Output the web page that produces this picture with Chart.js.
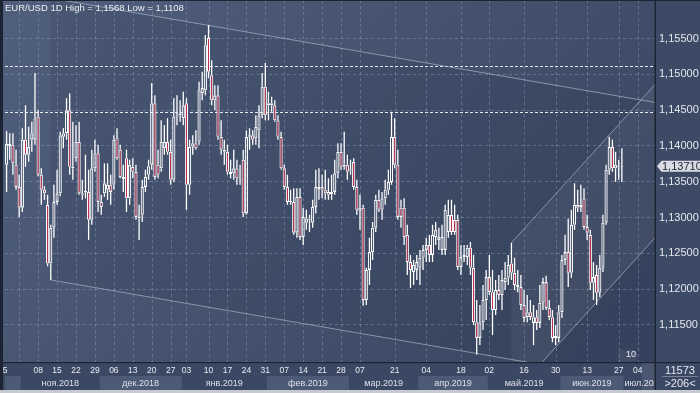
<!DOCTYPE html>
<html><head><meta charset="utf-8">
<script src="https://cdn.jsdelivr.net/npm/chart.js@4/dist/chart.umd.min.js"></script>
<style>html,body{margin:0;padding:0;background:#3c4964;}canvas{display:block}</style>
</head><body>
<canvas id="c" width="700" height="393"></canvas>
<script>
// ---- data (daily EUR/USD, bar index 0 = first visible bar) ----
const opens = [1.1373,1.1402,1.1401,1.1373,1.1342,1.1313,1.1408,1.1387,1.1408,1.1408,
1.1440,1.1359,1.1338,1.1317,1.1235,1.1285,1.1321,1.1333,1.1412,1.1417,
1.1449,1.1370,1.1382,1.1405,1.1333,1.1335,1.1335,1.1296,1.1368,1.1389,
1.1321,1.1333,1.1338,1.1345,1.1345,1.1410,1.1394,1.1356,1.1382,1.1326,
1.1370,1.1363,1.1301,1.1303,1.1342,1.1359,1.1373,1.1459,1.1373,1.1368,
1.1396,1.1405,1.1391,1.1352,1.1440,1.1442,1.1438,1.1459,1.1345,1.1398,
1.1403,1.1405,1.1473,1.1477,1.1550,1.1498,1.1463,1.1470,1.1412,1.1394,
1.1391,1.1363,1.1361,1.1368,1.1354,1.1380,1.1305,1.1412,1.1414,1.1410,
1.1421,1.1442,1.1482,1.1456,1.1459,1.1456,1.1435,1.1412,1.1368,1.1342,
1.1321,1.1321,1.1278,1.1328,1.1272,1.1292,1.1296,1.1292,1.1314,1.1339,
1.1342,1.1338,1.1335,1.1332,1.1335,1.1361,1.1391,1.1370,1.1373,1.1366,
1.1377,1.1342,1.1308,1.1313,1.1184,1.1226,1.1251,1.1285,1.1324,1.1310,
1.1326,1.1338,1.1349,1.1412,1.1373,1.1313,1.1313,1.1275,1.1237,1.1223,
1.1226,1.1229,1.1243,1.1254,1.1261,1.1247,1.1272,1.1268,1.1254,1.1254,
1.1279,1.1303,1.1296,1.1296,1.1230,1.1244,1.1244,1.1257,1.1229,1.1153,
1.1131,1.1153,1.1184,1.1216,1.1195,1.1170,1.1198,1.1191,1.1209,1.1215,
1.1235,1.1222,1.1205,1.1202,1.1177,1.1160,1.1167,1.1152,1.1160,1.1152,
1.1180,1.1209,1.1173,1.1160,1.1131,1.1131,1.1167,1.1240,1.1251,1.1222,
1.1289,1.1317,1.1317,1.1326,1.1286,1.1275,1.1208,1.1219,1.1194,1.1229,
1.1292,1.1366,1.1398,1.1368,1.1371,1.1370];
const highs = [1.1420,1.1417,1.1417,1.1394,1.1359,1.1424,1.1456,1.1426,1.1433,1.1501,
1.1449,1.1368,1.1343,1.1331,1.1289,1.1345,1.1366,1.1419,1.1424,1.1466,
1.1473,1.1433,1.1428,1.1433,1.1352,1.1387,1.1366,1.1394,1.1408,1.1401,
1.1331,1.1375,1.1375,1.1359,1.1414,1.1424,1.1401,1.1373,1.1394,1.1380,
1.1382,1.1373,1.1317,1.1352,1.1366,1.1380,1.1487,1.1470,1.1394,1.1435,
1.1428,1.1438,1.1408,1.1466,1.1470,1.1463,1.1475,1.1466,1.1408,1.1414,
1.1421,1.1489,1.1503,1.1554,1.1568,1.1519,1.1484,1.1484,1.1435,1.1408,
1.1401,1.1380,1.1394,1.1380,1.1373,1.1394,1.1421,1.1424,1.1421,1.1442,
1.1456,1.1501,1.1515,1.1475,1.1468,1.1463,1.1442,1.1419,1.1373,1.1359,
1.1338,1.1340,1.1340,1.1340,1.1313,1.1310,1.1303,1.1324,1.1366,1.1368,
1.1359,1.1366,1.1354,1.1359,1.1380,1.1403,1.1403,1.1419,1.1387,1.1380,
1.1382,1.1352,1.1331,1.1317,1.1229,1.1271,1.1293,1.1331,1.1338,1.1335,
1.1352,1.1366,1.1447,1.1438,1.1394,1.1324,1.1326,1.1289,1.1247,1.1240,
1.1247,1.1254,1.1261,1.1271,1.1275,1.1289,1.1293,1.1285,1.1289,1.1317,
1.1324,1.1324,1.1317,1.1303,1.1261,1.1261,1.1261,1.1265,1.1247,1.1184,
1.1177,1.1205,1.1226,1.1247,1.1226,1.1212,1.1219,1.1226,1.1237,1.1247,
1.1264,1.1243,1.1226,1.1219,1.1198,1.1191,1.1184,1.1177,1.1170,1.1205,
1.1215,1.1218,1.1184,1.1170,1.1149,1.1177,1.1247,1.1275,1.1298,1.1310,
1.1347,1.1338,1.1345,1.1340,1.1303,1.1282,1.1237,1.1233,1.1247,1.1303,
1.1373,1.1412,1.1408,1.1391,1.1380,1.1396];
const lows = [1.1335,1.1380,1.1359,1.1338,1.1300,1.1307,1.1370,1.1377,1.1391,1.1401,
1.1357,1.1317,1.1324,1.1231,1.1212,1.1271,1.1317,1.1329,1.1396,1.1408,
1.1359,1.1352,1.1377,1.1331,1.1324,1.1326,1.1268,1.1289,1.1363,1.1307,
1.1303,1.1328,1.1324,1.1317,1.1338,1.1380,1.1354,1.1335,1.1307,1.1317,
1.1354,1.1296,1.1268,1.1293,1.1335,1.1352,1.1366,1.1352,1.1354,1.1363,
1.1387,1.1387,1.1345,1.1349,1.1428,1.1433,1.1428,1.1310,1.1331,1.1387,
1.1394,1.1401,1.1463,1.1470,1.1494,1.1456,1.1449,1.1408,1.1387,1.1373,
1.1359,1.1354,1.1352,1.1345,1.1345,1.1300,1.1303,1.1394,1.1401,1.1401,
1.1396,1.1438,1.1435,1.1435,1.1447,1.1433,1.1408,1.1366,1.1338,1.1317,
1.1317,1.1275,1.1271,1.1268,1.1261,1.1282,1.1279,1.1285,1.1305,1.1324,
1.1326,1.1324,1.1324,1.1324,1.1331,1.1354,1.1366,1.1366,1.1352,1.1359,
1.1338,1.1303,1.1282,1.1176,1.1177,1.1205,1.1240,1.1279,1.1307,1.1296,
1.1317,1.1331,1.1345,1.1368,1.1296,1.1285,1.1261,1.1219,1.1201,1.1205,
1.1212,1.1205,1.1226,1.1237,1.1237,1.1237,1.1261,1.1254,1.1247,1.1247,
1.1271,1.1275,1.1275,1.1226,1.1219,1.1237,1.1233,1.1219,1.1149,1.1108,
1.1121,1.1142,1.1156,1.1191,1.1135,1.1163,1.1184,1.1170,1.1198,1.1205,
1.1212,1.1198,1.1195,1.1170,1.1153,1.1153,1.1156,1.1121,1.1142,1.1145,
1.1170,1.1170,1.1156,1.1125,1.1121,1.1125,1.1159,1.1233,1.1202,1.1215,
1.1282,1.1307,1.1307,1.1282,1.1268,1.1198,1.1184,1.1177,1.1188,1.1223,
1.1289,1.1359,1.1363,1.1349,1.1352,1.1349];
const closes = [1.1402,1.1399,1.1375,1.1342,1.1313,1.1408,1.1387,1.1398,1.1417,1.1438,
1.1359,1.1338,1.1333,1.1235,1.1285,1.1321,1.1333,1.1414,1.1417,1.1449,
1.1370,1.1368,1.1405,1.1333,1.1331,1.1336,1.1296,1.1368,1.1389,1.1321,
1.1314,1.1347,1.1345,1.1335,1.1408,1.1382,1.1356,1.1353,1.1326,1.1373,
1.1363,1.1300,1.1298,1.1342,1.1356,1.1371,1.1459,1.1356,1.1359,1.1405,
1.1405,1.1391,1.1352,1.1440,1.1442,1.1445,1.1456,1.1345,1.1398,1.1403,
1.1396,1.1477,1.1480,1.1540,1.1503,1.1463,1.1470,1.1412,1.1394,1.1391,
1.1363,1.1360,1.1368,1.1354,1.1352,1.1305,1.1412,1.1414,1.1408,1.1426,
1.1442,1.1482,1.1442,1.1459,1.1456,1.1435,1.1412,1.1368,1.1342,1.1321,
1.1322,1.1278,1.1328,1.1272,1.1300,1.1298,1.1298,1.1314,1.1342,1.1342,
1.1338,1.1333,1.1331,1.1335,1.1361,1.1391,1.1370,1.1373,1.1363,1.1365,
1.1342,1.1310,1.1313,1.1184,1.1226,1.1251,1.1285,1.1324,1.1310,1.1326,
1.1338,1.1349,1.1412,1.1373,1.1300,1.1300,1.1272,1.1237,1.1226,1.1233,
1.1237,1.1243,1.1254,1.1261,1.1247,1.1275,1.1282,1.1272,1.1272,1.1310,
1.1303,1.1279,1.1279,1.1230,1.1244,1.1247,1.1257,1.1229,1.1153,1.1131,
1.1153,1.1184,1.1216,1.1195,1.1170,1.1198,1.1191,1.1212,1.1215,1.1233,
1.1222,1.1205,1.1202,1.1177,1.1159,1.1167,1.1160,1.1160,1.1152,1.1180,
1.1209,1.1173,1.1160,1.1131,1.1134,1.1167,1.1240,1.1251,1.1222,1.1289,
1.1317,1.1313,1.1314,1.1286,1.1278,1.1208,1.1216,1.1194,1.1229,1.1292,
1.1366,1.1398,1.1368,1.1373,1.1370,1.1371];

const totalSlots = 206;               // bars that fit the window (">206<")
const priceTicks = [1.155,1.150,1.145,1.140,1.135,1.130,1.125,1.120,1.115];
const dayTickPos  = [-1.2,10,16,22,28,34,40,46,52,57,64,70,76,82,88,94,100,106,112,123,133,144,153,164,174,184,194,200];
const dayTickText = ['25','08','15','22','29','06','13','20','27','03','10','17','24','31','07','14','21','28','07','21','04','18','02','16','30','13','27','04'];
const extraGrid = [4];
const monthStart = [-0.5,4.5,29.5,55.5,82.5,108.5,130.5,152.5,175.5,195.5];
const monthEnd   = [4.5,29.5,55.5,82.5,108.5,130.5,152.5,175.5,195.5,205.5];
const monthNames = ['','ноя.2018','дек.2018','янв.2019','фев.2019','мар.2019','апр.2019','май.2019','июн.2019','июл.2019'];
const levelLines = [1.1511, 1.1446];
// equidistant channels: [base p1, base p2, parallel point]
const downChannel = [[63.5,1.1568],[205.5,1.1460],[14,1.1212]];
const upChannel   = [[160,1.1264],[205.5,1.1485],[173.2,1.1114]];
const title = 'EUR/USD 1D High = 1,1568 Low = 1,1108';
const infoTop = '11573', infoBottom = '>206<', shiftLabel = '10';

// ---- datasets built from the arrays ----
const bodies = opens.map((o,i)=>({x:i, y:[Math.min(o,closes[i]), Math.max(o,closes[i])]}));
const upW = opens.map((o,i)=>({x:i, y:[Math.max(o,closes[i]), highs[i]]}));
const loW = opens.map((o,i)=>({x:i, y:[lows[i], Math.min(o,closes[i])]}));
const bodyFill = opens.map((o,i)=> closes[i] >= o ? 'rgba(0,0,0,0)' : '#c0304e');

const FONT = '"Liberation Sans", Arial, sans-serif';

function fmt(v){ return v.toFixed(5).replace('.', ','); }

const deco = {
  id:'deco',
  beforeDatasetsDraw(chart){
    const {ctx, chartArea:a, scales:{x,y}} = chart;
    const W = chart.width, H = chart.height;
    ctx.save();
    ctx.fillStyle = '#3c4964'; ctx.fillRect(0,0,W,H);
    const g = ctx.createLinearGradient(0,0,520,420);
    g.addColorStop(0,'#505f7c'); g.addColorStop(0.5,'#45536f'); g.addColorStop(1,'#3a4762');
    ctx.fillStyle = g; ctx.fillRect(3,0,a.right-3,a.bottom);
    ctx.beginPath(); ctx.rect(a.left,a.top,a.right-a.left,a.bottom-a.top); ctx.clip();
    function chan(c, fill){
      const [p1,p2,p3] = c; const s = (p2[1]-p1[1])/(p2[0]-p1[0]);
      const x0 = Math.min(p1[0],p3[0]), x1 = totalSlots;
      const base = t => p1[1] + s*(t-p1[0]);
      const par = t => p3[1] + s*(t-p3[0]);
      ctx.beginPath();
      ctx.moveTo(x.getPixelForValue(x0), y.getPixelForValue(base(x0)));
      ctx.lineTo(x.getPixelForValue(x1), y.getPixelForValue(base(x1)));
      ctx.lineTo(x.getPixelForValue(x1), y.getPixelForValue(par(x1)));
      ctx.lineTo(x.getPixelForValue(x0), y.getPixelForValue(par(x0)));
      ctx.closePath(); ctx.fillStyle = fill; ctx.fill();
      return {x0, x1, base, par};
    }
    const dc = chan(downChannel,'rgba(20,28,48,0.10)');
    const uc = chan(upChannel,'rgba(255,255,255,0.05)');
    ctx.lineWidth = 1; ctx.setLineDash([3,3]); ctx.strokeStyle = 'rgba(150,165,195,0.42)';
    priceTicks.forEach(p=>{ const yy = Math.round(y.getPixelForValue(p))+0.5;
      ctx.beginPath(); ctx.moveTo(a.left,yy); ctx.lineTo(a.right,yy); ctx.stroke(); });
    dayTickPos.concat(extraGrid).forEach(t=>{ if (t < 0) return; const xx = Math.round(x.getPixelForValue(t))+0.5;
      ctx.beginPath(); ctx.moveTo(xx,a.top); ctx.lineTo(xx,a.bottom); ctx.stroke(); });
    ctx.setLineDash([3,2]); ctx.strokeStyle = 'rgba(240,242,248,0.95)';
    levelLines.forEach(p=>{ const yy = Math.round(y.getPixelForValue(p))+0.5;
      ctx.beginPath(); ctx.moveTo(a.left,yy); ctx.lineTo(a.right,yy); ctx.stroke(); });
    ctx.setLineDash([]); ctx.strokeStyle = 'rgba(185,195,215,0.6)';
    [dc,uc].forEach(c=>{ [c.base,c.par].forEach(f=>{
      ctx.beginPath(); ctx.moveTo(x.getPixelForValue(c.x0), y.getPixelForValue(f(c.x0)));
      ctx.lineTo(x.getPixelForValue(c.x1), y.getPixelForValue(f(c.x1))); ctx.stroke(); }); });
    ctx.restore();
  },
  afterDraw(chart){
    const {ctx, chartArea:a, scales:{x,y}} = chart;
    const W = chart.width, H = chart.height;
    ctx.save();
    ctx.fillStyle = '#3b4863'; ctx.fillRect(0,a.bottom,W,H-a.bottom);
    ctx.fillStyle = '#3d4a66'; ctx.fillRect(a.right,0,W-a.right,a.bottom);
    ctx.save(); ctx.beginPath(); ctx.rect(3,a.bottom,a.right-3,H-a.bottom); ctx.clip();
    ctx.font = '9px '+FONT; ctx.textBaseline='middle';
    monthStart.forEach((s,k)=>{
      const x0 = Math.max(3, x.getPixelForValue(monthStart[k]));
      const x1 = Math.min(a.right, x.getPixelForValue(monthEnd[k]));
      if (k % 2 === 0){ ctx.fillStyle = '#4c5a76'; ctx.fillRect(x0,376,x1-x0,14); }
      ctx.fillStyle = '#dce1e9';
      if (monthNames[k]){
        if (k === monthNames.length-1){ ctx.textAlign='left'; ctx.fillText(monthNames[k], x0+1, 383.5); }
        else { ctx.textAlign='center'; ctx.fillText(monthNames[k], (x0+x1)/2, 383.5); }
      }
    });
    ctx.font = '8.5px '+FONT; ctx.textAlign='center'; ctx.fillStyle='#e8ebf1';
    dayTickPos.forEach((p,k)=> ctx.fillText(dayTickText[k], x.getPixelForValue(p), 370.5));
    ctx.restore();
    ctx.fillStyle='rgba(255,255,255,0.06)'; ctx.fillRect(618,350,19,12);
    ctx.fillStyle='rgba(255,255,255,0.08)'; ctx.fillRect(642,363,13,27);
    ctx.font = '9px '+FONT; ctx.textAlign='center'; ctx.fillStyle='#e8ebf1';
    ctx.fillText(shiftLabel, 631, 356.5);
    ctx.fillStyle = '#1c2433';
    ctx.fillRect(0,0,3,H); ctx.fillRect(0,a.bottom,W,1.2); ctx.fillRect(a.right-0.5,0,1.5,H);
    ctx.fillRect(0,0,W,1);
    ctx.fillStyle = '#c6cad1'; ctx.fillRect(0,390,W,3);
    ctx.font = '11px '+FONT; ctx.textAlign='left'; ctx.textBaseline='middle'; ctx.fillStyle='#e3e7ee';
    priceTicks.forEach(p=> ctx.fillText(fmt(p), 659, y.getPixelForValue(p)+0.5));
    const last = closes[closes.length-1]; const ty = y.getPixelForValue(last);
    ctx.fillStyle = '#d9dde3'; ctx.beginPath();
    ctx.moveTo(657,ty); ctx.lineTo(661.5,ty-5.5); ctx.lineTo(700,ty-5.5); ctx.lineTo(700,ty+5.5); ctx.lineTo(661.5,ty+5.5); ctx.closePath(); ctx.fill();
    ctx.fillStyle = '#1e2430'; ctx.fillText(fmt(last), 662, ty+0.5);
    ctx.textAlign='center'; ctx.fillStyle='#e3e7ee'; ctx.font = '11px '+FONT;
    ctx.fillText(infoTop, 680, 370.5); ctx.fillText(infoBottom, 680, 384);
    ctx.fillStyle='rgba(180,190,210,0.5)'; ctx.fillRect(662,376,36,1);
    ctx.font = '9.5px '+FONT; ctx.textAlign='left'; ctx.fillStyle='#eceef3';
    ctx.fillText(title, 5, 8.5);
    ctx.restore();
  }
};

new Chart(document.getElementById('c'), {
  type:'bar',
  data:{ datasets:[
    { label:'body', data:bodies, order:0, grouped:false, barThickness:3.2, borderWidth:1.1, borderColor:'#ffffff',
      borderSkipped:false, backgroundColor:bodyFill, minBarLength:1, inflateAmount:0 },
    { label:'upper', data:upW, order:1, grouped:false, barThickness:1.3, backgroundColor:'#ffffff', borderWidth:0, inflateAmount:0 },
    { label:'lower', data:loW, order:1, grouped:false, barThickness:1.3, backgroundColor:'#ffffff', borderWidth:0, inflateAmount:0 }
  ]},
  options:{
    responsive:false, animation:false, devicePixelRatio:1, events:[],
    layout:{padding:{left:5,right:45,top:0,bottom:31}},
    plugins:{legend:{display:false}, tooltip:{enabled:false}},
    scales:{
      x:{type:'linear', min:-0.5, max:totalSlots-0.5, offset:false, grid:{offset:false}, display:false},
      y:{type:'linear', min:1.10974, max:1.16031, display:false}
    }
  },
  plugins:[deco]
});
</script>
</body></html>
